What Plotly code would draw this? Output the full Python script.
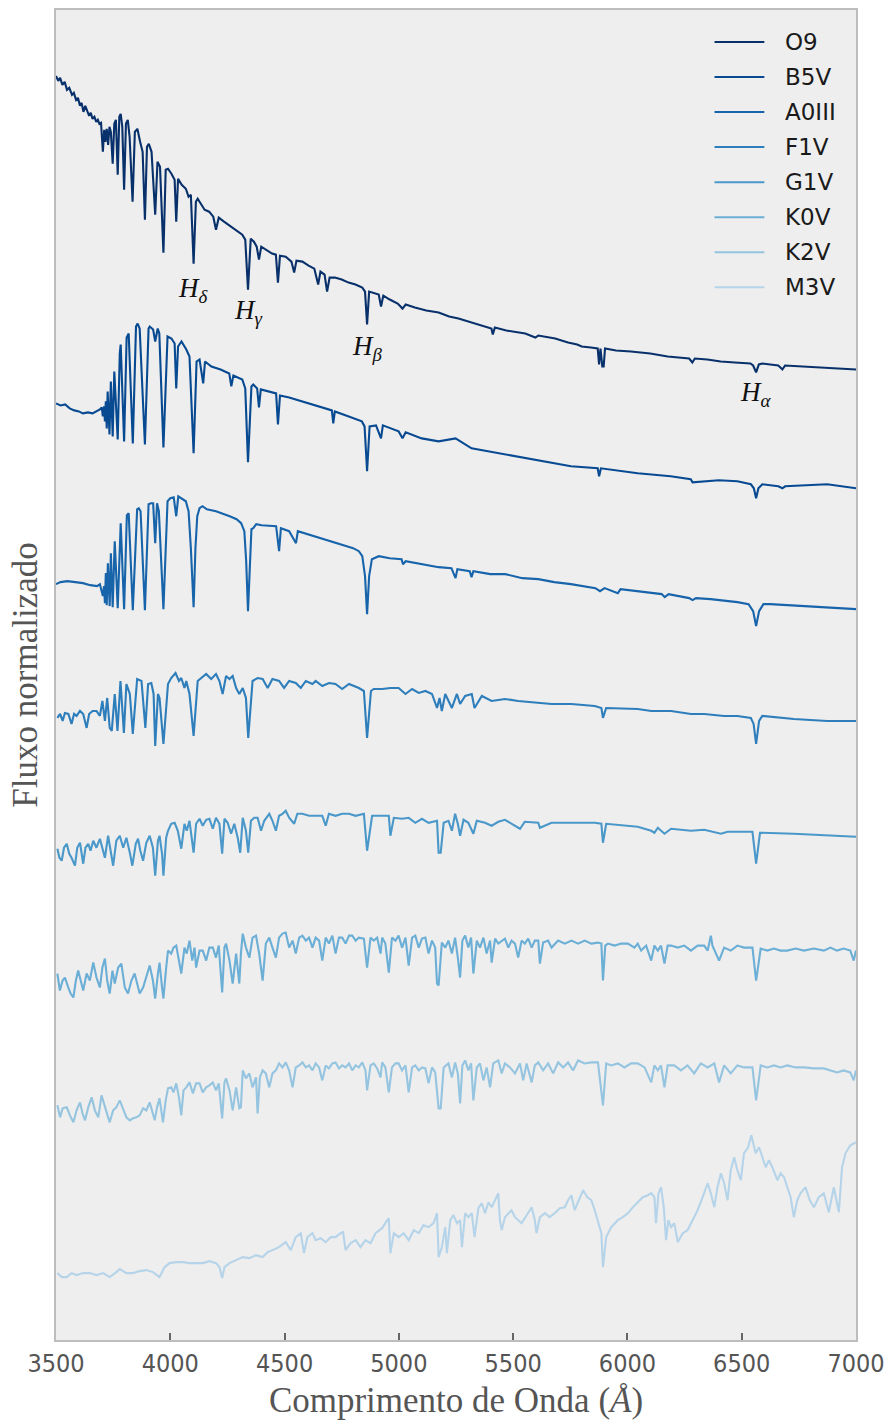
import plotly.graph_objects as go

# ---------------- data (wavelength in Angstrom, normalised flux + offset) ----------------
names = ["O9", "B5V", "A0III", "F1V", "G1V", "K0V", "K2V", "M3V"]
colors = ["#08306b", "#084a92", "#1764ab", "#2e7ebc", "#4a98c9", "#6baed6", "#94c4df", "#b6d4e9"]

spec_O9 = [(3500,12.66),(3510,12.61),(3518,12.64),(3528,12.57),(3538,12.60),(3548,12.52),(3558,12.54),(3570,12.47),(3578,12.49),(3588,12.42),(3596,12.44),(3605,12.36),(3612,12.39),(3620,12.30),(3628,12.36),(3636,12.32),(3645,12.26),(3652,12.29),(3660,12.23),(3668,12.25),(3676,12.20),(3683,12.22),(3690,12.18),(3697,12.19),(3705,11.90),(3711,12.12),(3716,12.00),(3722,12.13),(3728,11.97),(3734,12.15),(3740,12.10),(3748,11.78),(3755,12.18),(3762,12.22),(3770,11.67),(3777,12.25),(3783,12.28),(3790,12.15),(3798,11.52),(3806,12.18),(3814,12.22),(3822,12.05),(3835,11.40),(3845,12.10),(3856,12.13),(3868,12.00),(3879,11.90),(3889,11.22),(3898,11.95),(3906,11.98),(3918,11.90),(3934,11.27),(3944,11.80),(3955,11.75),(3970,10.89),(3980,11.72),(3990,11.73),(4005,11.68),(4019,11.62),(4026,11.20),(4034,11.63),(4050,11.57),(4068,11.53),(4080,11.45),(4090,11.47),(4102,10.78),(4112,11.40),(4120,11.43),(4135,11.37),(4150,11.32),(4170,11.30),(4188,11.25),(4200,11.12),(4212,11.24),(4235,11.20),(4260,11.16),(4287,11.12),(4315,11.07),(4328,11.02),(4340,10.52),(4352,11.03),(4366,11.00),(4378,10.95),(4388,10.82),(4398,10.95),(4420,10.92),(4445,10.88),(4462,10.87),(4471,10.59),(4480,10.86),(4505,10.85),(4530,10.80),(4542,10.69),(4552,10.81),(4578,10.80),(4605,10.76),(4630,10.73),(4647,10.57),(4657,10.70),(4675,10.67),(4686,10.50),(4697,10.64),(4720,10.64),(4750,10.62),(4780,10.59),(4810,10.57),(4840,10.54),(4852,10.50),(4861,10.17),(4870,10.50),(4885,10.49),(4912,10.47),(4922,10.35),(4932,10.46),(4960,10.42),(4995,10.38),(5016,10.33),(5030,10.37),(5070,10.34),(5120,10.31),(5174,10.29),(5220,10.25),(5261,10.23),(5318,10.19),(5370,10.15),(5405,10.13),(5411,10.07),(5420,10.14),(5470,10.11),(5553,10.08),(5597,10.04),(5610,10.06),(5684,10.03),(5740,9.99),(5780,9.97),(5800,9.95),(5840,9.94),(5870,9.93),(5876,9.77),(5882,9.93),(5890,9.75),(5896,9.75),(5902,9.93),(5950,9.91),(6015,9.90),(6100,9.88),(6176,9.85),(6270,9.83),(6284,9.79),(6295,9.83),(6350,9.82),(6408,9.80),(6470,9.79),(6538,9.78),(6550,9.76),(6563,9.69),(6575,9.77),(6590,9.78),(6660,9.76),(6678,9.72),(6690,9.76),(6773,9.75),(6887,9.73),(7000,9.72)]

spec_B5V = [(3500,9.38),(3520,9.36),(3540,9.37),(3560,9.33),(3580,9.31),(3600,9.30),(3618,9.28),(3640,9.29),(3660,9.28),(3680,9.30),(3692,9.32),(3700,9.34),(3705,9.25),(3710,9.35),(3714,9.20),(3718,9.40),(3722,9.13),(3726,9.50),(3734,9.07),(3740,9.60),(3748,9.05),(3755,9.70),(3770,9.02),(3779,9.88),(3783,9.97),(3798,9.00),(3809,10.04),(3818,10.08),(3836,8.98),(3850,10.15),(3857,10.18),(3866,10.13),(3889,8.97),(3905,10.13),(3910,10.15),(3925,10.12),(3934,10.00),(3945,10.13),(3952,10.08),(3970,8.94),(3988,10.05),(4005,10.03),(4019,9.98),(4026,9.53),(4034,9.95),(4049,10.00),(4070,9.92),(4084,9.85),(4102,8.88),(4115,9.80),(4128,9.82),(4144,9.58),(4152,9.80),(4180,9.75),(4220,9.72),(4258,9.68),(4267,9.55),(4276,9.66),(4315,9.62),(4328,9.53),(4340,8.79),(4355,9.55),(4363,9.57),(4380,9.53),(4388,9.34),(4396,9.52),(4430,9.50),(4463,9.48),(4471,9.17),(4480,9.46),(4520,9.44),(4577,9.40),(4640,9.36),(4707,9.31),(4713,9.18),(4720,9.30),(4781,9.25),(4838,9.20),(4850,9.15),(4861,8.70),(4872,9.15),(4900,9.16),(4922,9.03),(4930,9.16),(4999,9.10),(5016,9.03),(5030,9.09),(5100,9.03),(5174,9.00),(5248,9.03),(5318,8.93),(5466,8.87),(5610,8.81),(5753,8.75),(5870,8.73),(5876,8.65),(5884,8.73),(6045,8.68),(6189,8.65),(6277,8.62),(6285,8.59),(6400,8.61),(6481,8.60),(6540,8.57),(6553,8.53),(6563,8.43),(6573,8.53),(6590,8.57),(6660,8.55),(6678,8.53),(6690,8.55),(6773,8.56),(6874,8.57),(7000,8.53)]

spec_A0III = [(3500,7.57),(3520,7.59),(3550,7.60),(3580,7.59),(3618,7.58),(3650,7.56),(3680,7.55),(3692,7.57),(3700,7.50),(3705,7.45),(3710,7.55),(3714,7.38),(3718,7.68),(3722,7.36),(3727,7.78),(3735,7.35),(3740,7.88),(3748,7.34),(3757,8.00),(3770,7.33),(3783,8.18),(3798,7.32),(3810,8.26),(3818,8.28),(3836,7.31),(3855,8.32),(3862,8.33),(3870,8.30),(3889,7.31),(3905,8.37),(3915,8.38),(3925,8.38),(3934,7.98),(3942,8.38),(3950,8.30),(3970,7.32),(3988,8.40),(4000,8.43),(4015,8.44),(4026,8.25),(4035,8.45),(4050,8.43),(4068,8.40),(4080,8.30),(4090,7.93),(4102,7.34),(4110,7.93),(4118,8.25),(4128,8.33),(4141,8.35),(4160,8.32),(4200,8.30),(4228,8.28),(4260,8.25),(4290,8.22),(4310,8.18),(4324,8.10),(4332,7.80),(4340,7.30),(4348,7.85),(4355,8.12),(4363,8.13),(4376,8.17),(4400,8.16),(4440,8.15),(4463,8.15),(4476,7.90),(4484,8.13),(4520,8.10),(4550,7.98),(4558,8.10),(4600,8.07),(4650,8.04),(4707,8.00),(4760,7.96),(4800,7.93),(4825,7.90),(4840,7.85),(4852,7.65),(4861,7.27),(4870,7.65),(4882,7.82),(4912,7.85),(4960,7.83),(5012,7.82),(5018,7.77),(5030,7.80),(5074,7.78),(5140,7.75),(5174,7.74),(5230,7.73),(5248,7.63),(5256,7.72),(5310,7.70),(5318,7.64),(5326,7.70),(5400,7.67),(5466,7.67),(5540,7.63),(5610,7.62),(5680,7.59),(5753,7.57),(5860,7.53),(5880,7.50),(5900,7.53),(5958,7.48),(5970,7.52),(6045,7.50),(6150,7.47),(6163,7.44),(6180,7.47),(6270,7.43),(6285,7.41),(6300,7.43),(6364,7.42),(6481,7.39),(6530,7.37),(6550,7.30),(6563,7.15),(6576,7.30),(6595,7.37),(6625,7.37),(6773,7.35),(6917,7.33),(7000,7.32)]

spec_F1V = [(3506,6.23),(3518,6.27),(3529,6.20),(3539,6.28),(3554,6.27),(3568,6.17),(3579,6.27),(3590,6.25),(3605,6.30),(3619,6.27),(3634,6.13),(3645,6.27),(3660,6.30),(3677,6.30),(3692,6.25),(3703,6.40),(3714,6.20),(3724,6.43),(3735,6.13),(3744,6.10),(3757,6.47),(3769,6.10),(3782,6.60),(3797,6.08),(3808,6.57),(3823,6.47),(3836,6.07),(3855,6.62),(3874,6.60),(3891,6.13),(3903,6.57),(3917,6.58),(3927,6.47),(3934,5.95),(3946,6.47),(3953,6.43),(3970,5.97),(3990,6.57),(4004,6.63),(4023,6.68),(4038,6.60),(4048,6.63),(4062,6.53),(4070,6.60),(4084,6.47),(4102,6.05),(4120,6.60),(4135,6.63),(4157,6.67),(4179,6.62),(4200,6.67),(4215,6.60),(4229,6.47),(4244,6.65),(4259,6.62),(4273,6.65),(4288,6.53),(4302,6.47),(4317,6.53),(4331,6.43),(4341,6.03),(4360,6.60),(4382,6.63),(4404,6.62),(4426,6.53),(4447,6.62),(4476,6.60),(4498,6.53),(4520,6.60),(4549,6.58),(4571,6.53),(4593,6.60),(4622,6.57),(4636,6.60),(4665,6.55),(4694,6.58),(4723,6.57),(4752,6.52),(4782,6.57),(4825,6.53),(4847,6.50),(4861,6.03),(4878,6.50),(4890,6.52),(4927,6.52),(4963,6.53),(4999,6.53),(5029,6.47),(5058,6.52),(5087,6.48),(5116,6.50),(5145,6.47),(5167,6.33),(5178,6.43),(5188,6.30),(5203,6.47),(5232,6.33),(5254,6.47),(5268,6.37),(5290,6.45),(5319,6.47),(5331,6.33),(5363,6.45),(5406,6.40),(5464,6.42),(5522,6.40),(5610,6.38),(5668,6.37),(5755,6.37),(5857,6.35),(5886,6.33),(5893,6.23),(5907,6.33),(5987,6.32),(6045,6.32),(6104,6.30),(6191,6.30),(6278,6.27),(6336,6.27),(6423,6.25),(6481,6.25),(6540,6.23),(6552,6.17),(6563,5.97),(6576,6.20),(6590,6.25),(6728,6.22),(6874,6.20),(7000,6.20)]

spec_G1V = [(3506,4.92),(3515,4.83),(3525,4.80),(3535,4.93),(3547,4.97),(3558,4.87),(3568,4.83),(3583,4.75),(3593,4.93),(3605,4.98),(3619,4.77),(3629,4.93),(3641,4.97),(3651,4.90),(3663,5.00),(3677,4.93),(3692,5.02),(3703,4.93),(3714,4.83),(3728,5.05),(3738,4.90),(3750,4.75),(3764,5.00),(3779,5.05),(3794,4.93),(3808,5.03),(3823,4.88),(3834,4.75),(3849,4.97),(3859,5.02),(3869,4.90),(3881,4.80),(3895,4.98),(3910,5.05),(3924,4.93),(3934,4.65),(3946,5.00),(3953,5.05),(3964,4.87),(3970,4.65),(3982,5.03),(3990,5.10),(4004,5.17),(4019,5.18),(4033,5.10),(4048,4.92),(4062,5.17),(4072,5.10),(4084,5.20),(4102,4.88),(4113,5.17),(4128,5.22),(4142,5.15),(4157,5.21),(4171,5.22),(4186,5.12),(4200,5.23),(4215,5.17),(4227,4.87),(4237,5.22),(4251,5.18),(4266,5.07),(4280,5.17),(4295,5.03),(4306,4.88),(4317,5.23),(4331,5.10),(4341,4.88),(4353,5.20),(4367,5.23),(4382,5.23),(4397,5.10),(4411,5.20),(4433,5.27),(4447,5.20),(4462,5.10),(4476,5.25),(4491,5.27),(4505,5.30),(4520,5.23),(4542,5.17),(4556,5.27),(4578,5.27),(4607,5.25),(4636,5.25),(4665,5.25),(4680,5.15),(4694,5.27),(4723,5.25),(4752,5.27),(4782,5.27),(4811,5.25),(4847,5.27),(4861,4.90),(4883,5.25),(4912,5.25),(4956,5.25),(4963,5.05),(4978,5.23),(5014,5.22),(5043,5.23),(5072,5.18),(5101,5.22),(5130,5.18),(5167,5.20),(5174,4.88),(5183,4.88),(5196,5.18),(5217,5.20),(5232,5.10),(5246,5.27),(5258,5.17),(5268,5.05),(5283,5.21),(5304,5.18),(5326,5.07),(5341,5.20),(5377,5.18),(5406,5.15),(5435,5.19),(5464,5.21),(5530,5.12),(5551,5.19),(5610,5.18),(5617,5.13),(5668,5.18),(5755,5.18),(5857,5.18),(5886,5.17),(5893,4.98),(5907,5.17),(5987,5.15),(6045,5.14),(6104,5.10),(6118,5.08),(6133,5.13),(6162,5.07),(6191,5.12),(6278,5.10),(6336,5.11),(6409,5.07),(6438,5.09),(6547,5.09),(6563,4.77),(6580,5.08),(6728,5.07),(6845,5.06),(7000,5.04)]

spec_K0V = [(3506,3.67),(3517,3.50),(3529,3.60),(3539,3.63),(3554,3.53),(3564,3.47),(3576,3.43),(3587,3.60),(3597,3.70),(3608,3.60),(3619,3.50),(3634,3.67),(3648,3.60),(3663,3.78),(3677,3.63),(3692,3.53),(3703,3.73),(3714,3.82),(3724,3.60),(3735,3.47),(3747,3.70),(3757,3.57),(3772,3.73),(3786,3.77),(3801,3.53),(3815,3.47),(3830,3.60),(3844,3.67),(3855,3.58),(3866,3.47),(3881,3.53),(3895,3.63),(3910,3.75),(3924,3.60),(3934,3.42),(3946,3.67),(3953,3.78),(3964,3.53),(3970,3.42),(3982,3.73),(3990,3.90),(4004,3.87),(4014,3.93),(4026,3.95),(4038,3.80),(4048,3.67),(4062,3.93),(4072,3.87),(4084,4.00),(4096,3.80),(4106,3.93),(4113,3.73),(4128,3.90),(4142,3.90),(4157,3.80),(4171,3.93),(4186,3.93),(4200,3.83),(4212,3.95),(4227,3.48),(4237,3.93),(4244,3.97),(4259,3.80),(4273,3.57),(4288,3.87),(4302,3.57),(4309,3.87),(4317,4.07),(4331,3.93),(4346,3.83),(4360,4.03),(4375,4.05),(4389,3.87),(4404,3.60),(4418,3.97),(4433,4.03),(4447,3.93),(4462,3.83),(4476,4.03),(4491,4.07),(4505,4.08),(4520,3.93),(4535,4.00),(4549,3.87),(4564,4.03),(4578,4.05),(4593,4.00),(4607,4.03),(4622,3.93),(4636,4.03),(4651,4.00),(4665,3.80),(4680,4.03),(4694,3.97),(4709,4.05),(4723,3.87),(4738,4.03),(4752,4.03),(4767,3.97),(4782,4.05),(4796,4.05),(4811,4.00),(4825,4.03),(4847,4.02),(4854,3.87),(4861,3.73),(4876,4.03),(4890,4.00),(4905,4.03),(4920,3.87),(4927,4.03),(4941,3.97),(4956,3.68),(4970,4.03),(4985,4.00),(4999,4.05),(5014,3.93),(5029,4.03),(5043,3.75),(5058,4.03),(5072,4.05),(5087,3.93),(5101,4.02),(5116,4.03),(5130,3.87),(5145,4.00),(5159,3.93),(5167,3.57),(5174,3.55),(5188,3.98),(5203,3.93),(5217,4.00),(5232,3.87),(5246,4.03),(5258,3.83),(5268,3.63),(5278,4.00),(5290,4.05),(5304,3.93),(5316,4.03),(5326,3.67),(5341,4.00),(5355,3.93),(5370,4.03),(5384,3.87),(5399,4.00),(5406,3.78),(5421,4.02),(5435,3.97),(5450,4.00),(5464,4.02),(5479,3.93),(5493,4.00),(5508,3.97),(5522,3.83),(5537,4.00),(5551,3.97),(5566,4.02),(5581,3.93),(5595,4.00),(5610,4.00),(5617,3.77),(5631,3.98),(5653,4.00),(5668,3.93),(5697,4.00),(5726,3.97),(5755,4.00),(5784,3.97),(5813,4.00),(5842,3.97),(5871,3.98),(5886,3.97),(5893,3.60),(5903,3.95),(5915,3.97),(5944,3.95),(5973,3.97),(6002,3.97),(6031,3.93),(6045,3.97),(6060,3.90),(6082,3.95),(6104,3.80),(6118,3.95),(6133,3.90),(6147,3.95),(6162,3.77),(6176,3.95),(6191,3.95),(6220,3.93),(6249,3.95),(6278,3.90),(6307,3.95),(6336,3.95),(6351,3.90),(6365,4.05),(6372,3.95),(6401,3.80),(6423,3.93),(6452,3.90),(6481,3.95),(6510,3.93),(6547,3.93),(6563,3.60),(6583,3.92),(6612,3.90),(6641,3.92),(6670,3.90),(6699,3.90),(6736,3.92),(6772,3.90),(6816,3.92),(6859,3.90),(6888,3.93),(6917,3.90),(6946,3.92),(6975,3.90),(6990,3.80),(7000,3.90)]

spec_K2V = [(3506,2.35),(3518,2.23),(3529,2.32),(3547,2.33),(3561,2.25),(3576,2.18),(3590,2.30),(3605,2.38),(3616,2.27),(3627,2.20),(3641,2.33),(3656,2.43),(3670,2.30),(3685,2.23),(3699,2.45),(3714,2.33),(3724,2.27),(3735,2.18),(3750,2.30),(3764,2.33),(3779,2.40),(3794,2.32),(3808,2.23),(3823,2.20),(3837,2.22),(3852,2.23),(3866,2.25),(3881,2.32),(3895,2.30),(3910,2.38),(3921,2.30),(3932,2.20),(3942,2.33),(3953,2.42),(3968,2.18),(3980,2.40),(3990,2.52),(4004,2.53),(4014,2.48),(4026,2.57),(4038,2.43),(4048,2.25),(4058,2.50),(4070,2.53),(4084,2.58),(4099,2.47),(4113,2.57),(4128,2.57),(4142,2.48),(4157,2.53),(4171,2.55),(4186,2.58),(4200,2.50),(4212,2.57),(4227,2.22),(4237,2.58),(4244,2.62),(4259,2.50),(4273,2.30),(4288,2.53),(4302,2.32),(4309,2.33),(4317,2.70),(4331,2.62),(4346,2.67),(4360,2.53),(4375,2.63),(4382,2.27),(4392,2.63),(4404,2.70),(4418,2.67),(4433,2.53),(4447,2.67),(4462,2.70),(4476,2.77),(4491,2.73),(4505,2.78),(4520,2.70),(4535,2.53),(4549,2.73),(4564,2.75),(4578,2.78),(4593,2.73),(4607,2.75),(4622,2.70),(4636,2.77),(4651,2.73),(4665,2.60),(4680,2.75),(4694,2.72),(4709,2.77),(4723,2.78),(4738,2.72),(4752,2.75),(4767,2.73),(4782,2.77),(4796,2.70),(4811,2.75),(4825,2.73),(4840,2.78),(4854,2.70),(4861,2.50),(4876,2.75),(4890,2.77),(4905,2.72),(4920,2.63),(4927,2.78),(4941,2.73),(4956,2.48),(4970,2.73),(4985,2.77),(4999,2.77),(5014,2.70),(5029,2.75),(5043,2.48),(5058,2.73),(5072,2.75),(5087,2.70),(5101,2.73),(5116,2.72),(5130,2.57),(5145,2.73),(5159,2.68),(5174,2.32),(5183,2.32),(5196,2.73),(5217,2.77),(5232,2.63),(5246,2.78),(5258,2.67),(5268,2.37),(5278,2.75),(5290,2.80),(5304,2.70),(5316,2.77),(5326,2.40),(5341,2.73),(5355,2.77),(5370,2.60),(5384,2.73),(5399,2.53),(5413,2.77),(5435,2.80),(5450,2.67),(5464,2.77),(5486,2.73),(5508,2.67),(5530,2.77),(5544,2.60),(5559,2.77),(5581,2.58),(5595,2.75),(5610,2.78),(5631,2.70),(5653,2.77),(5675,2.67),(5697,2.78),(5719,2.73),(5740,2.78),(5762,2.70),(5784,2.80),(5813,2.77),(5842,2.78),(5871,2.78),(5893,2.35),(5907,2.77),(5929,2.75),(5958,2.77),(5987,2.73),(6016,2.77),(6045,2.77),(6075,2.73),(6104,2.58),(6118,2.75),(6133,2.70),(6147,2.75),(6162,2.53),(6176,2.75),(6205,2.75),(6234,2.70),(6263,2.75),(6292,2.67),(6321,2.77),(6351,2.73),(6380,2.77),(6401,2.58),(6423,2.75),(6452,2.67),(6481,2.75),(6510,2.73),(6547,2.73),(6563,2.40),(6583,2.75),(6612,2.73),(6641,2.75),(6670,2.73),(6699,2.75),(6736,2.73),(6772,2.73),(6816,2.72),(6859,2.72),(6888,2.70),(6917,2.68),(6946,2.70),(6975,2.68),(6990,2.60),(7000,2.70)]

spec_M3V = [(3506,0.67),(3525,0.63),(3547,0.63),(3568,0.67),(3590,0.65),(3619,0.67),(3648,0.67),(3677,0.65),(3706,0.67),(3735,0.63),(3764,0.68),(3779,0.71),(3808,0.67),(3837,0.67),(3866,0.69),(3895,0.70),(3924,0.68),(3953,0.63),(3975,0.73),(3997,0.77),(4026,0.78),(4055,0.78),(4084,0.77),(4113,0.77),(4142,0.77),(4171,0.79),(4200,0.77),(4215,0.73),(4227,0.62),(4237,0.73),(4259,0.77),(4288,0.80),(4317,0.83),(4346,0.82),(4375,0.85),(4404,0.83),(4426,0.88),(4447,0.90),(4476,0.93),(4505,0.98),(4527,0.90),(4549,1.03),(4571,1.07),(4585,0.87),(4600,1.03),(4622,1.07),(4636,1.00),(4658,1.02),(4680,0.98),(4702,1.03),(4723,1.03),(4745,1.07),(4756,1.08),(4767,0.90),(4789,0.97),(4811,1.00),(4832,0.93),(4854,1.00),(4876,0.97),(4898,1.07),(4927,1.12),(4949,1.20),(4956,1.22),(4963,0.87),(4978,1.07),(4999,1.03),(5021,1.07),(5043,1.00),(5065,1.10),(5087,1.07),(5108,1.15),(5130,1.13),(5152,1.17),(5167,1.27),(5174,0.83),(5188,0.93),(5203,1.13),(5210,0.87),(5225,1.20),(5239,1.25),(5254,1.17),(5268,1.20),(5276,0.93),(5290,1.27),(5304,1.23),(5319,1.27),(5331,1.03),(5348,1.32),(5363,1.37),(5377,1.27),(5392,1.38),(5406,1.33),(5421,1.40),(5435,1.47),(5442,1.20),(5450,1.10),(5464,1.23),(5479,1.27),(5493,1.30),(5508,1.23),(5522,1.20),(5537,1.17),(5559,1.25),(5581,1.33),(5595,1.20),(5602,1.07),(5617,1.23),(5639,1.27),(5660,1.23),(5682,1.27),(5704,1.32),(5726,1.33),(5740,1.40),(5755,1.45),(5769,1.30),(5784,1.38),(5806,1.50),(5825,1.43),(5842,1.40),(5857,1.30),(5871,1.20),(5886,1.07),(5893,0.73),(5907,1.03),(5929,1.13),(5958,1.20),(5980,1.23),(6002,1.27),(6024,1.33),(6045,1.38),(6067,1.43),(6089,1.45),(6104,1.47),(6118,1.43),(6125,1.17),(6136,1.47),(6147,1.53),(6159,1.33),(6169,1.00),(6179,1.20),(6191,1.13),(6205,1.17),(6220,0.98),(6242,1.07),(6263,1.10),(6285,1.20),(6307,1.30),(6329,1.43),(6351,1.57),(6365,1.47),(6380,1.33),(6394,1.53),(6409,1.67),(6423,1.57),(6438,1.40),(6452,1.70),(6467,1.83),(6481,1.70),(6496,1.60),(6510,1.87),(6528,1.93),(6542,2.05),(6561,1.87),(6576,1.93),(6590,1.83),(6605,1.73),(6619,1.80),(6634,1.73),(6656,1.60),(6670,1.67),(6685,1.63),(6699,1.53),(6714,1.43),(6728,1.23),(6743,1.40),(6757,1.47),(6779,1.53),(6798,1.40),(6816,1.33),(6837,1.43),(6859,1.47),(6881,1.28),(6903,1.53),(6925,1.28),(6939,1.73),(6954,1.87),(6975,1.95),(7000,1.98)]

spectra = [spec_O9, spec_B5V, spec_A0III, spec_F1V, spec_G1V, spec_K0V, spec_K2V, spec_M3V]

# Balmer line labels: (greek subscript, wavelength, flux position)
line_labels = [("δ", 4102, 10.52), ("γ", 4340, 10.30), ("β", 4861, 9.93), ("α", 6563, 9.47)]

xticks = [3500, 4000, 4500, 5000, 5500, 6000, 6500, 7000]

# ---------------- figure ----------------
fig = go.Figure()
for name, col, spec in zip(names, colors, spectra):
    fig.add_trace(go.Scatter(
        x=[p[0] for p in spec], y=[p[1] for p in spec],
        mode="lines", name=name, line=dict(color=col, width=2.1),
        showlegend=False))

serif = "Liberation Serif, Times New Roman, serif"
for greek, wl, fy in line_labels:
    fig.add_annotation(x=wl, y=fy, xref="x", yref="y",
                       text=f"<i>H</i><sub><i>{greek}</i></sub>",
                       showarrow=False, xanchor="center", yanchor="middle",
                       font=dict(family=serif, size=27, color="#111111"))

# legend drawn by hand (long line samples like the reference)
W, H = 893, 1425
L, R, T, B = 56, 34, 8, 85
pw, ph = W - L - R, H - T - B
row0, dy = 40, 35.1
for i, (name, col) in enumerate(zip(names, colors)):
    py = row0 + i * dy
    yp = (H - B - py) / ph
    fig.add_shape(type="line", xref="paper", yref="paper",
                  x0=(717 - L) / pw, x1=(767 - L) / pw, y0=yp, y1=yp,
                  line=dict(color=col, width=2))
    fig.add_annotation(xref="paper", yref="paper", x=(786 - L) / pw, y=yp,
                       text=name, showarrow=False, xanchor="left", yanchor="middle",
                       font=dict(family="DejaVu Sans", size=23, color="#1a1a1a"))

fig.update_layout(
    width=W, height=H,
    margin=dict(l=L, r=R, t=T, b=B),
    paper_bgcolor="white", plot_bgcolor="#eeeeee",
    showlegend=False,
)
fig.update_xaxes(
    range=[3500, 7000], tickvals=xticks, ticktext=[str(t) for t in xticks],
    ticks="inside", ticklen=7, tickwidth=1.5, tickcolor="#666666",
    showline=True, linecolor="#bdbdbd", linewidth=2, mirror=True,
    showgrid=False, zeroline=False,
    tickfont=dict(family="Liberation Sans Narrow, DejaVu Sans Condensed, Liberation Sans", size=25, color="#555555"),
    title=dict(text="Comprimento de Onda (<i>Å</i>)", standoff=10,
               font=dict(family=serif, size=35, color="#555555")),
)
fig.update_yaxes(
    range=[0, 13.32], showticklabels=False, ticks="",
    showline=True, linecolor="#bdbdbd", linewidth=2, mirror=True,
    showgrid=False, zeroline=False,
    title=dict(text="Fluxo normalizado", standoff=6,
               font=dict(family=serif, size=35, color="#555555")),
)

fig.write_html("out.html")
